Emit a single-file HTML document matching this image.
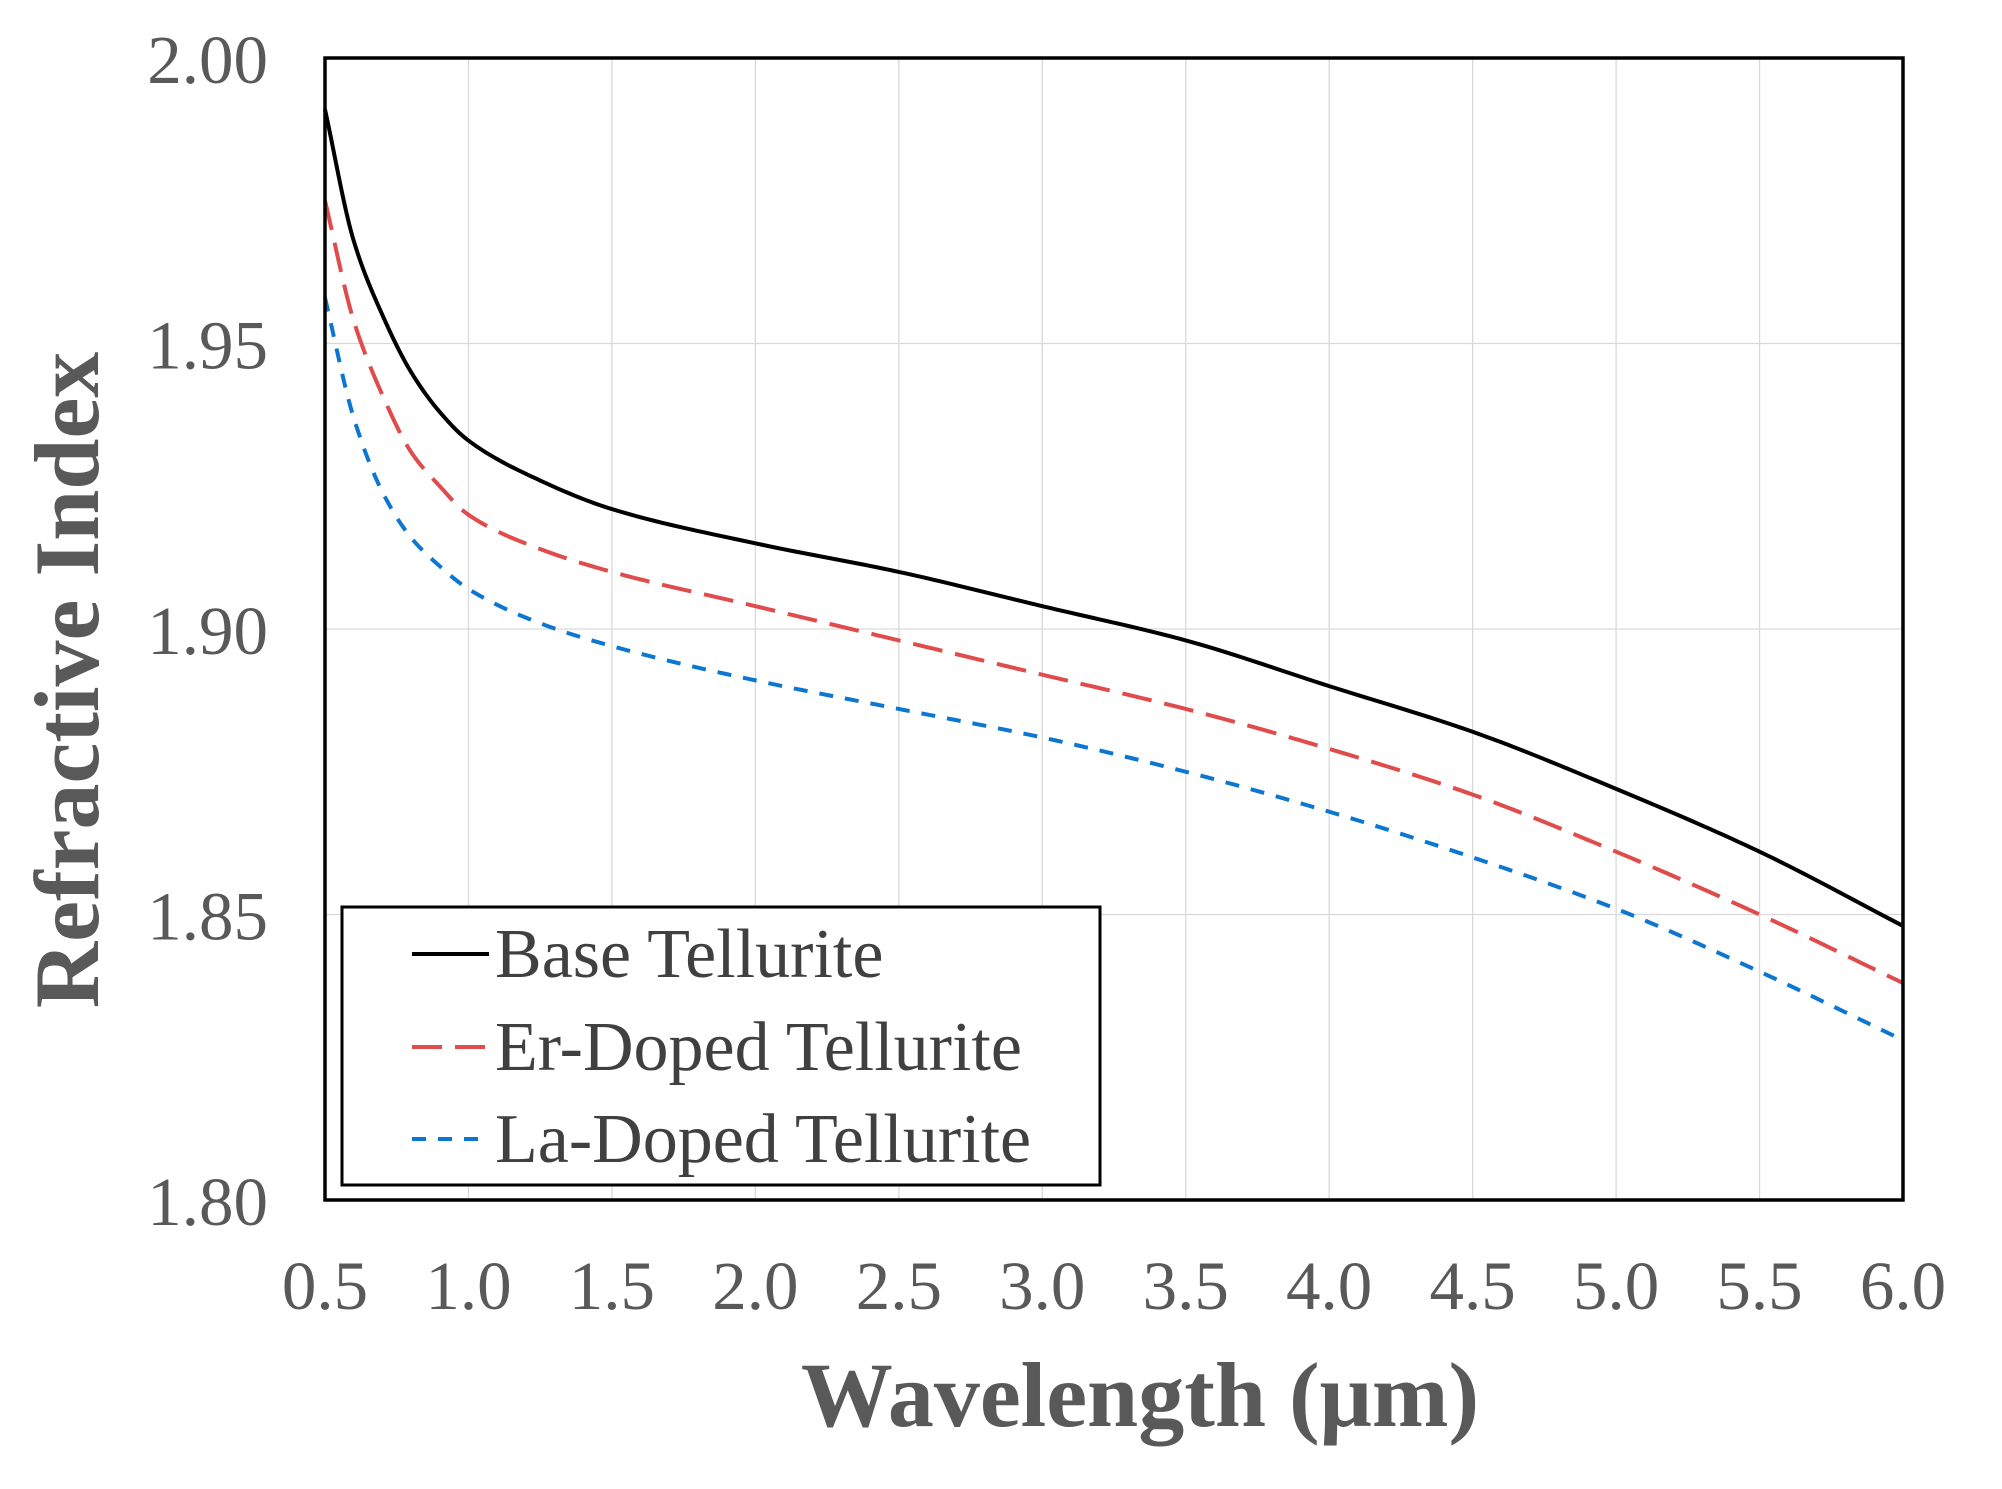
<!DOCTYPE html>
<html><head><meta charset="utf-8"><style>
html,body{margin:0;padding:0;background:#fff}
svg text{font-family:"Liberation Serif",serif}
</style></head><body>
<svg id="chart" width="2002" height="1484" xmlns="http://www.w3.org/2000/svg">
<g id="grid"></g><g id="series"></g><g id="axes"></g>
</svg>
<script>
const xs=[0.5,0.6,0.7,0.8,0.9,1.0,1.25,1.5,2.0,2.5,3.0,3.5,4.0,4.5,5.0,5.5,6.0];
const baseVals=[1.991,1.968,1.955,1.945,1.938,1.933,1.926,1.921,1.915,1.910,1.904,1.898,1.890,1.882,1.872,1.861,1.848];
const erVals=[1.975,1.954,1.941,1.931,1.925,1.920,1.914,1.910,1.904,1.898,1.892,1.886,1.879,1.871,1.861,1.850,1.838];
const laVals=[1.958,1.937,1.924,1.916,1.911,1.907,1.901,1.897,1.891,1.886,1.881,1.875,1.868,1.860,1.851,1.840,1.828];
const xTicks=[0.5,1.0,1.5,2.0,2.5,3.0,3.5,4.0,4.5,5.0,5.5,6.0];
const yTicks=[1.80,1.85,1.90,1.95,2.00];
const L=325,R=1903,T=58,B=1200;
const sx=v=>L+(v-0.5)/(6.0-0.5)*(R-L);
const sy=v=>B-(v-1.80)/(2.00-1.80)*(B-T);
const NS="http://www.w3.org/2000/svg";
function mk(tag,attrs,parent,text){const e=document.createElementNS(NS,tag);for(const k in attrs)e.setAttribute(k,attrs[k]);if(text!==undefined)e.textContent=text;parent.appendChild(e);return e;}
const grid=document.getElementById('grid'),ser=document.getElementById('series'),ax=document.getElementById('axes');
xTicks.forEach(t=>{const l=mk('line',{x1:sx(t),x2:sx(t),y1:T,y2:B,stroke:'#d9d9d9','stroke-width':1.3},grid);


const tx=mk('text',{x:sx(t),y:1309,'text-anchor':'middle','font-size':69,fill:'#595959'},ax,t.toFixed(1));

});
yTicks.forEach(t=>{const l=mk('line',{x1:L,x2:R,y1:sy(t),y2:sy(t),stroke:'#d9d9d9','stroke-width':1.3},grid);


const tx=mk('text',{x:268,y:sy(t)+25,'text-anchor':'end','font-size':69,fill:'#595959'},ax,t.toFixed(2));

});
function path(vals){
  const n=xs.length,d=[],m=new Array(n);
  for(let i=0;i<n-1;i++)d.push((vals[i+1]-vals[i])/(xs[i+1]-xs[i]));
  m[0]=d[0];m[n-1]=d[n-2];
  for(let i=1;i<n-1;i++){
    if(d[i-1]*d[i]<=0)m[i]=0;
    else{const h0=xs[i]-xs[i-1],h1=xs[i+1]-xs[i];const w1=2*h1+h0,w2=h1+2*h0;m[i]=(w1+w2)/(w1/d[i-1]+w2/d[i]);}
  }
  let s='';
  for(let i=0;i<n-1;i++){
    const h=xs[i+1]-xs[i];
    for(let k=0;k<=20;k++){
      if(i>0&&k===0)continue;
      const t=k/20,t2=t*t,t3=t2*t;
      const y=(2*t3-3*t2+1)*vals[i]+(t3-2*t2+t)*h*m[i]+(-2*t3+3*t2)*vals[i+1]+(t3-t2)*h*m[i+1];
      const x=xs[i]+t*h;
      s+=(s?' L':'M')+sx(x).toFixed(2)+','+sy(y).toFixed(2);
    }
  }
  return s;
}
const s1=mk('path',{d:path(baseVals),fill:'none',stroke:'#000','stroke-width':4,'stroke-linejoin':'round'},ser);


const s2=mk('path',{d:path(erVals),fill:'none',stroke:'#e04b4b','stroke-width':4,'stroke-dasharray':'30,13'},ser);


const s3=mk('path',{d:path(laVals),fill:'none',stroke:'#0d76d1','stroke-width':4,'stroke-dasharray':'14,12'},ser);


const fr=mk('rect',{x:L,y:T,width:R-L,height:B-T,fill:'none',stroke:'#000','stroke-width':3.5},ax);


const lg=mk('g',{},ax);


mk('rect',{x:342,y:907,width:758,height:278,fill:'#fff',stroke:'#000','stroke-width':3},lg);
const ent=[['Base Tellurite','#000','none',954],['Er-Doped Tellurite','#e04b4b','30,13',1047],['La-Doped Tellurite','#0d76d1','14,12',1139]];
ent.forEach(e=>{const g=mk('g',{},lg);


mk('line',{x1:412,x2:489,y1:e[3],y2:e[3],stroke:e[1],'stroke-width':4,'stroke-dasharray':e[2]},g);
mk('text',{x:495,y:e[3]+23,'font-size':70,fill:'#404040'},g,e[0]);});
const xt=mk('text',{x:1140,y:1426,'text-anchor':'middle','font-size':92,'font-weight':'bold',fill:'#595959'},ax,'Wavelength (μm)');


const yt=mk('text',{x:0,y:0,transform:'translate(98,680) rotate(-90)','text-anchor':'middle','font-size':92,'font-weight':'bold',fill:'#595959'},ax,'Refractive Index');


</script>
</body></html>
